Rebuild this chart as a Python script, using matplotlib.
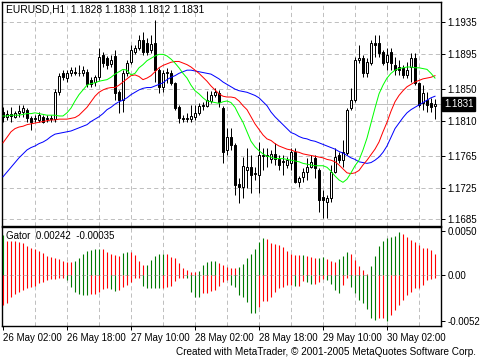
import numpy as np
import matplotlib
matplotlib.use("Agg")
import matplotlib.pyplot as plt
from matplotlib import transforms

plt.rcParams['font.family'] = ['Liberation Sans', 'DejaVu Sans']
plt.rcParams['lines.scale_dashes'] = False

symbol = "EURUSD,H1"

opens = [1.1821, 1.1815, 1.1818, 1.1815, 1.1820, 1.1821, 1.1824, 1.1813, 1.1812, 1.1811,
         1.1815, 1.1812, 1.1813, 1.1812, 1.1846, 1.1870, 1.1864, 1.1870, 1.1872, 1.1871,
         1.1870, 1.1872, 1.1861, 1.1859, 1.1865, 1.1893, 1.1889, 1.1882, 1.1892, 1.1846,
         1.1836, 1.1870, 1.1884, 1.1897, 1.1902, 1.1912, 1.1908, 1.1900, 1.1908, 1.1874,
         1.1853, 1.1870, 1.1871, 1.1858, 1.1827, 1.1813, 1.1812, 1.1812, 1.1815, 1.1820,
         1.1829, 1.1829, 1.1835, 1.1843, 1.1845, 1.1826, 1.1773, 1.1789, 1.1779, 1.1730,
         1.1726, 1.1748, 1.1751, 1.1742, 1.1741, 1.1765, 1.1765, 1.1761, 1.1768, 1.1762,
         1.1758, 1.1754, 1.1756, 1.1770, 1.1732, 1.1739, 1.1745, 1.1751, 1.1763, 1.1748,
         1.1714, 1.1707, 1.1712, 1.1745, 1.1767, 1.1760, 1.1769, 1.1826, 1.1836, 1.1887,
         1.1889, 1.1871, 1.1883, 1.1908, 1.1908, 1.1897, 1.1884, 1.1897, 1.1881, 1.1878,
         1.1877, 1.1868, 1.1878, 1.1889, 1.1858, 1.1832, 1.1836, 1.1832, 1.1828]
highs = [1.1827, 1.1824, 1.1827, 1.1822, 1.1830, 1.1830, 1.1826, 1.1816, 1.1817, 1.1821,
         1.1817, 1.1817, 1.1817, 1.1850, 1.1871, 1.1874, 1.1874, 1.1878, 1.1878, 1.1881,
         1.1879, 1.1876, 1.1865, 1.1868, 1.1902, 1.1897, 1.1892, 1.1893, 1.1900, 1.1849,
         1.1874, 1.1887, 1.1906, 1.1906, 1.1919, 1.1922, 1.1915, 1.1919, 1.1938, 1.1877,
         1.1874, 1.1877, 1.1874, 1.1859, 1.1830, 1.1817, 1.1820, 1.1830, 1.1830, 1.1832,
         1.1834, 1.1848, 1.1848, 1.1851, 1.1849, 1.1829, 1.1801, 1.1801, 1.1782, 1.1737,
         1.1764, 1.1776, 1.1767, 1.1751, 1.1783, 1.1776, 1.1776, 1.1773, 1.1782, 1.1767,
         1.1767, 1.1764, 1.1776, 1.1776, 1.1740, 1.1750, 1.1763, 1.1767, 1.1767, 1.1750,
         1.1722, 1.1716, 1.1754, 1.1776, 1.1770, 1.1786, 1.1826, 1.1851, 1.1891, 1.1906,
         1.1893, 1.1889, 1.1912, 1.1919, 1.1919, 1.1900, 1.1902, 1.1902, 1.1891, 1.1887,
         1.1881, 1.1884, 1.1896, 1.1896, 1.1859, 1.1855, 1.1846, 1.1839, 1.1838]
lows = [1.1808, 1.1811, 1.1808, 1.1813, 1.1815, 1.1815, 1.1809, 1.1798, 1.1808, 1.1808,
        1.1807, 1.1808, 1.1809, 1.1809, 1.1843, 1.1861, 1.1859, 1.1866, 1.1868, 1.1866,
        1.1866, 1.1853, 1.1853, 1.1854, 1.1862, 1.1878, 1.1876, 1.1878, 1.1836, 1.1820,
        1.1821, 1.1867, 1.1882, 1.1895, 1.1900, 1.1893, 1.1893, 1.1896, 1.1859, 1.1845,
        1.1846, 1.1858, 1.1855, 1.1824, 1.1807, 1.1808, 1.1809, 1.1809, 1.1811, 1.1817,
        1.1824, 1.1827, 1.1832, 1.1840, 1.1827, 1.1757, 1.1767, 1.1773, 1.1716, 1.1706,
        1.1712, 1.1725, 1.1719, 1.1735, 1.1719, 1.1748, 1.1751, 1.1756, 1.1754, 1.1748,
        1.1741, 1.1750, 1.1748, 1.1731, 1.1726, 1.1732, 1.1735, 1.1750, 1.1737, 1.1694,
        1.1687, 1.1687, 1.1707, 1.1744, 1.1756, 1.1751, 1.1767, 1.1824, 1.1834, 1.1883,
        1.1865, 1.1865, 1.1880, 1.1891, 1.1891, 1.1880, 1.1874, 1.1874, 1.1868, 1.1868,
        1.1864, 1.1864, 1.1859, 1.1855, 1.1827, 1.1824, 1.1821, 1.1821, 1.1812]
closes = [1.1815, 1.1818, 1.1816, 1.1820, 1.1822, 1.1826, 1.1813, 1.1809, 1.1813, 1.1817,
          1.1809, 1.1813, 1.1812, 1.1846, 1.1867, 1.1865, 1.1870, 1.1874, 1.1871, 1.1870,
          1.1874, 1.1856, 1.1857, 1.1865, 1.1891, 1.1883, 1.1881, 1.1887, 1.1845, 1.1836,
          1.1870, 1.1883, 1.1900, 1.1902, 1.1912, 1.1897, 1.1897, 1.1907, 1.1874, 1.1853,
          1.1870, 1.1872, 1.1858, 1.1826, 1.1813, 1.1812, 1.1813, 1.1816, 1.1820, 1.1829,
          1.1830, 1.1836, 1.1843, 1.1846, 1.1834, 1.1770, 1.1789, 1.1779, 1.1728, 1.1726,
          1.1753, 1.1751, 1.1741, 1.1744, 1.1767, 1.1767, 1.1767, 1.1768, 1.1762, 1.1754,
          1.1759, 1.1760, 1.1770, 1.1732, 1.1737, 1.1745, 1.1751, 1.1758, 1.1750, 1.1710,
          1.1710, 1.1712, 1.1745, 1.1764, 1.1760, 1.1770, 1.1824, 1.1836, 1.1887, 1.1889,
          1.1870, 1.1884, 1.1908, 1.1906, 1.1896, 1.1883, 1.1893, 1.1883, 1.1874, 1.1874,
          1.1868, 1.1874, 1.1889, 1.1858, 1.1830, 1.1845, 1.1830, 1.1827, 1.1831]

jaw = [1.1739, 1.1745, 1.1751, 1.1757, 1.1763, 1.1768, 1.1773, 1.1776, 1.1778, 1.1781,
       1.1783, 1.1786, 1.1790, 1.1793, 1.1794, 1.1795, 1.1796, 1.1797, 1.1799, 1.1801,
       1.1803, 1.1805, 1.1809, 1.1812, 1.1815, 1.1819, 1.1824, 1.1827, 1.1831, 1.1834,
       1.1836, 1.1839, 1.1843, 1.1846, 1.1849, 1.1851, 1.1852, 1.1852, 1.1854, 1.1856,
       1.1858, 1.1862, 1.1865, 1.1867, 1.1870, 1.1872, 1.1874, 1.1874, 1.1873, 1.1872,
       1.1871, 1.1870, 1.1869, 1.1866, 1.1863, 1.1859, 1.1856, 1.1853, 1.1850, 1.1848,
       1.1847, 1.1846, 1.1844, 1.1842, 1.1839, 1.1834, 1.1829, 1.1821, 1.1815, 1.1810,
       1.1805, 1.1800, 1.1795, 1.1793, 1.1790, 1.1788, 1.1787, 1.1785, 1.1784, 1.1782,
       1.1780, 1.1778, 1.1776, 1.1774, 1.1771, 1.1769, 1.1766, 1.1763, 1.1761, 1.1758,
       1.1757, 1.1756, 1.1757, 1.1760, 1.1764, 1.1770, 1.1778, 1.1789, 1.1800, 1.1807,
       1.1814, 1.1820, 1.1824, 1.1827, 1.1830, 1.1833, 1.1836, 1.1839, 1.1841]
teeth = [1.1782, 1.1789, 1.1796, 1.1800, 1.1802, 1.1803, 1.1805, 1.1806, 1.1807, 1.1808,
         1.1809, 1.1810, 1.1811, 1.1811, 1.1812, 1.1812, 1.1812, 1.1813, 1.1814, 1.1817,
         1.1822, 1.1827, 1.1834, 1.1841, 1.1846, 1.1849, 1.1851, 1.1852, 1.1852, 1.1855,
         1.1859, 1.1863, 1.1867, 1.1868, 1.1866, 1.1862, 1.1864, 1.1867, 1.1872, 1.1877,
         1.1880, 1.1882, 1.1884, 1.1885, 1.1885, 1.1883, 1.1881, 1.1878, 1.1874, 1.1870,
         1.1865, 1.1860, 1.1854, 1.1849, 1.1844, 1.1841, 1.1840, 1.1840, 1.1839, 1.1835,
         1.1829, 1.1824, 1.1815, 1.1806, 1.1799, 1.1792, 1.1787, 1.1785, 1.1781, 1.1778,
         1.1776, 1.1774, 1.1773, 1.1771, 1.1770, 1.1768, 1.1767, 1.1766, 1.1765, 1.1764,
         1.1763, 1.1761, 1.1760, 1.1758, 1.1754, 1.1749, 1.1744, 1.1743, 1.1744, 1.1747,
         1.1754, 1.1760, 1.1767, 1.1774, 1.1783, 1.1796, 1.1808, 1.1822, 1.1834, 1.1842,
         1.1848, 1.1853, 1.1856, 1.1859, 1.1861, 1.1863, 1.1864, 1.1865, 1.1867]
lips = [1.1816, 1.1816, 1.1817, 1.1817, 1.1817, 1.1818, 1.1819, 1.1819, 1.1820, 1.1819,
        1.1818, 1.1817, 1.1817, 1.1817, 1.1816, 1.1816, 1.1820, 1.1826, 1.1835, 1.1843,
        1.1849, 1.1855, 1.1857, 1.1858, 1.1860, 1.1861, 1.1862, 1.1865, 1.1869, 1.1872,
        1.1875, 1.1874, 1.1868, 1.1870, 1.1877, 1.1881, 1.1886, 1.1889, 1.1892, 1.1894,
        1.1894, 1.1892, 1.1888, 1.1883, 1.1877, 1.1870, 1.1864, 1.1855, 1.1848, 1.1844,
        1.1839, 1.1835, 1.1834, 1.1833, 1.1832, 1.1834, 1.1835, 1.1833, 1.1827, 1.1817,
        1.1808, 1.1796, 1.1784, 1.1777, 1.1772, 1.1768, 1.1765, 1.1764, 1.1762, 1.1762,
        1.1762, 1.1761, 1.1760, 1.1759, 1.1758, 1.1756, 1.1755, 1.1754, 1.1753, 1.1753,
        1.1753, 1.1751, 1.1746, 1.1740, 1.1735, 1.1732, 1.1736, 1.1744, 1.1753, 1.1760,
        1.1773, 1.1788, 1.1807, 1.1826, 1.1844, 1.1855, 1.1864, 1.1870, 1.1874, 1.1876,
        1.1877, 1.1878, 1.1878, 1.1877, 1.1877, 1.1876, 1.1875, 1.1870, 1.1864]

gator_up = [0.00454, 0.00390, 0.00386, 0.00383, 0.00380, 0.00360, 0.00329, 0.00311, 0.00292, 0.00273,
            0.00246, 0.00220, 0.00208, 0.00189, 0.00178, 0.00163, 0.00151, 0.00144, 0.00159, 0.00197,
            0.00235, 0.00273, 0.00284, 0.00295, 0.00296, 0.00292, 0.00265, 0.00235, 0.00227, 0.00220,
            0.00246, 0.00258, 0.00257, 0.00227, 0.00159, 0.00114, 0.00115, 0.00170, 0.00220, 0.00235,
            0.00236, 0.00234, 0.00208, 0.00189, 0.00133, 0.00083, 0.00057, 0.00038, 0.00030, 0.00045,
            0.00114, 0.00144, 0.00159, 0.00160, 0.00133, 0.00114, 0.00095, 0.00083, 0.00076, 0.00095,
            0.00121, 0.00197, 0.00235, 0.00295, 0.00371, 0.00417, 0.00405, 0.00360, 0.00348, 0.00341,
            0.00314, 0.00273, 0.00239, 0.00227, 0.00226, 0.00228, 0.00220, 0.00201, 0.00197, 0.00198,
            0.00199, 0.00182, 0.00159, 0.00151, 0.00178, 0.00220, 0.00265, 0.00235, 0.00170, 0.00106,
            0.00057, 0.00015, 0.00102, 0.00220, 0.00333, 0.00386, 0.00424, 0.00436, 0.00447, 0.00492,
            0.00462, 0.00435, 0.00398, 0.00379, 0.00341, 0.00303, 0.00302, 0.00284, 0.00242]
gator_down = [-0.00341, -0.00314, -0.00246, -0.00220, -0.00197, -0.00170, -0.00151, -0.00133, -0.00130, -0.00095,
              -0.00076, -0.00057, -0.00049, -0.00048, -0.00038, -0.00030, -0.00057, -0.00133, -0.00189, -0.00216,
              -0.00227, -0.00230, -0.00220, -0.00216, -0.00197, -0.00159, -0.00144, -0.00159, -0.00182, -0.00170,
              -0.00133, -0.00114, -0.00076, -0.00030, -0.00030, -0.00121, -0.00144, -0.00151, -0.00152, -0.00152,
              -0.00150, -0.00133, -0.00121, -0.00068, -0.00038, -0.00030, -0.00031, -0.00197, -0.00246, -0.00247,
              -0.00208, -0.00207, -0.00182, -0.00170, -0.00121, -0.00076, -0.00057, -0.00114, -0.00133, -0.00227,
              -0.00246, -0.00303, -0.00428, -0.00429, -0.00360, -0.00295, -0.00294, -0.00246, -0.00197, -0.00144,
              -0.00133, -0.00114, -0.00113, -0.00121, -0.00120, -0.00068, -0.00076, -0.00106, -0.00105, -0.00076,
              -0.00049, -0.00057, -0.00106, -0.00170, -0.00208, -0.00114, -0.00038, -0.00133, -0.00208, -0.00284,
              -0.00322, -0.00386, -0.00492, -0.00511, -0.00485, -0.00484, -0.00523, -0.00454, -0.00398, -0.00341,
              -0.00284, -0.00227, -0.00197, -0.00151, -0.00150, -0.00114, -0.00057, -0.00040, -0.00035]

price_ticks = [1.1685, 1.1725, 1.1765, 1.1810, 1.1850, 1.1895, 1.1935]
gator_ticks = [-0.0052, 0.0, 0.0050]
gator_tick_labels = ['-0.0052', '0.00', '0.0050']
time_labels = ['26 May 02:00', '26 May 18:00', '27 May 10:00', '28 May 02:00',
               '28 May 18:00', '29 May 10:00', '30 May 02:00']
bars_per_label = 16
bars_per_grid = 8

# ---------------------------------------------------------------
W, H = 480, 360
fig = plt.figure(figsize=(W / 100, H / 100), dpi=100)
fig.patch.set_facecolor('white')


def rect(x0, y0, x1, y1):
    return [x0 / W, 1 - y1 / H, (x1 - x0) / W, (y1 - y0) / H]


ax = fig.add_axes(rect(2, 2, 441, 226))
axg = fig.add_axes(rect(2, 227, 441, 326))

o = np.array(opens); h = np.array(highs); l = np.array(lows); c = np.array(closes)
n = len(o)
x = np.arange(n)
PX = 0.72
FS = 7
grid_kw = dict(color='#C0C0C0', lw=PX, linestyle=(0, (3, 2.2)), zorder=1)
grid_bars = np.arange(bars_per_grid, n, bars_per_grid)

for a in (ax, axg):
    a.set_xlim(-0.25, 109.5)
    for b in grid_bars:
        a.axvline(b, **grid_kw)
    for s in a.spines.values():
        s.set_linewidth(1.0)
        s.set_color('black')
    a.set_facecolor('white')

# main price panel
for t in price_ticks:
    ax.axhline(t, **grid_kw)
ax.axhline(c[-1], color='#C0C0C0', lw=PX, zorder=1.5)

ax.vlines(x, l, h, color='black', lw=PX, zorder=3)
bull = c >= o
ax.bar(x[bull], (c - o)[bull], bottom=o[bull], width=0.72, facecolor='white',
       edgecolor='black', lw=PX, zorder=4)
ax.bar(x[~bull], (o - c)[~bull], bottom=c[~bull], width=0.72, facecolor='black',
       edgecolor='black', lw=PX, zorder=4)
ax.plot(x, jaw, color='#0000FF', lw=PX, zorder=5)
ax.plot(x, teeth, color='#FF0000', lw=PX, zorder=5)
ax.plot(x, lips, color='#00FF00', lw=PX, zorder=5)

ax.set_ylim(1.16767, 1.19603)
ax.yaxis.tick_right()
ax.set_yticks(price_ticks)
ax.set_yticklabels([f'{t:.4f}' for t in price_ticks])
ax.tick_params(axis='y', direction='out', length=3, width=PX, pad=1.5, labelsize=FS, left=False)
ax.tick_params(axis='x', bottom=False, labelbottom=False)

trans = transforms.blended_transform_factory(ax.transAxes, ax.transData)
ax.annotate(f'{c[-1]:.4f}', xy=(1.0, c[-1]), xycoords=trans, xytext=(2.2, 0),
            textcoords='offset points', ha='left', va='center', color='white', fontsize=FS,
            bbox=dict(boxstyle='square,pad=0.18', fc='black', ec='black'),
            annotation_clip=False, zorder=10)

# gator panel
def gator_colors(vals, sign, start_up):
    cols, up = [], start_up
    for i, v in enumerate(vals):
        if i > 0:
            if sign * v > sign * vals[i - 1]:
                up = True
            elif sign * v < sign * vals[i - 1]:
                up = False
        cols.append('#007800' if up else '#FF0000')
    return cols

axg.axhline(0, **grid_kw)
axg.vlines(x, 0, gator_up, colors=gator_colors(gator_up, 1, True), lw=0.8, zorder=3)
axg.vlines(x, 0, gator_down, colors=gator_colors(gator_down, -1, False), lw=0.8, zorder=3)
axg.set_ylim(-0.00579, 0.00545)
axg.yaxis.tick_right()
axg.set_yticks(gator_ticks)
axg.set_yticklabels(gator_tick_labels)
axg.tick_params(axis='y', direction='out', length=3, width=PX, pad=1.5, labelsize=FS, left=False)
axg.set_xticks(np.arange(0, n, bars_per_label)[:len(time_labels)])
axg.set_xticklabels(time_labels)
axg.tick_params(axis='x', direction='out', length=3, width=PX, pad=2, labelsize=FS)
for lab in axg.get_xticklabels():
    lab.set_ha('left')

# texts
fig.text(6 / W, 1 - 9 / H,
         f'{symbol}  {o[-1]:.4f} {h[-1]:.4f} {l[-1]:.4f} {c[-1]:.4f}',
         ha='left', va='center', fontsize=7.4, color='black')
fig.text(6 / W, 1 - 236 / H, f'Gator  {gator_up[-1]:.5f}  {gator_down[-1]:.5f}',
         ha='left', va='center', fontsize=FS, color='black')
fig.text(476 / W, 1 - 352 / H,
         'Created with MetaTrader, \u00a9 2001-2005 MetaQuotes Software Corp.',
         ha='right', va='center', fontsize=7.2, color='black')

fig.savefig('out.png', dpi=100, facecolor='white')
